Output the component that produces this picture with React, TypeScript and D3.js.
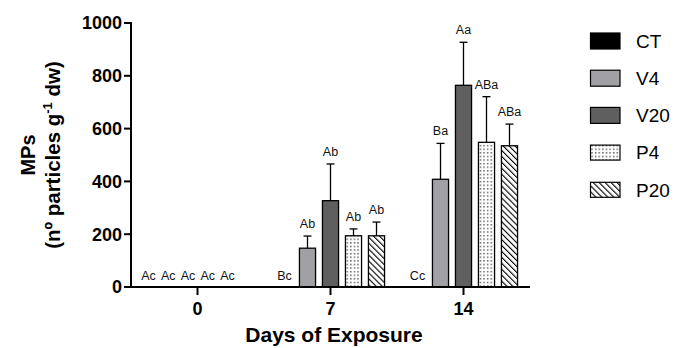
import React from "react";
import * as d3 from "d3";

const days = ["0", "7", "14"];
const series = ["CT", "V4", "V20", "P4", "P20"];
const meanCT = [0, 0, 0];
const meanV4 = [0, 147, 408];
const meanV20 = [0, 327, 764];
const meanP4 = [0, 194, 548];
const meanP20 = [0, 194, 535];
const sdCT = [0, 0, 0];
const sdV4 = [0, 46, 136];
const sdV20 = [0, 139, 163];
const sdP4 = [0, 26, 173];
const sdP20 = [0, 52, 82];
const lettersCT = ["Ac", "Bc", "Cc"];
const lettersV4 = ["Ac", "Ab", "Ba"];
const lettersV20 = ["Ac", "Ab", "Aa"];
const lettersP4 = ["Ac", "Ab", "ABa"];
const lettersP20 = ["Ac", "Ab", "ABa"];
const yTicks = [0, 200, 400, 600, 800, 1000];

const means = [meanCT, meanV4, meanV20, meanP4, meanP20];
const sds = [sdCT, sdV4, sdV20, sdP4, sdP20];
const letters = [lettersCT, lettersV4, lettersV20, lettersP4, lettersP20];
const fills = ["#000000", "#a1a1a5", "#5f5f5f", "url(#dots)", "url(#hatch)"];

const W = 675;
const H = 348;
const left = 131;
const right = 530;
const top = 23;
const bottom = 287;

export default function App() {
  const x = d3.scaleBand<string>().domain(days).range([left, right]).padding(0);
  const inner = d3
    .scaleBand<string>()
    .domain(series)
    .range([-57.5, 57.5])
    .paddingInner(0.3)
    .paddingOuter(0.15);
  const y = d3.scaleLinear().domain([0, 1000]).range([bottom, top]);
  const legendY = d3.scalePoint<string>().domain(series).range([41, 189.8]);
  const font = "Liberation Sans, Arial, sans-serif";

  const bars: React.ReactNode[] = [];
  const labels: React.ReactNode[] = [];
  days.forEach((d, di) => {
    const gc = (x(d) as number) + x.bandwidth() / 2;
    series.forEach((s, si) => {
      const v = means[si][di];
      const e = sds[si][di];
      const bx = gc + (inner(s) as number);
      const bw = inner.bandwidth();
      const cx = bx + bw / 2;
      if (v > 0) {
        if (e > 0) {
          bars.push(
            <g key={`e${d}${s}`} stroke="#000" strokeWidth={1.3}>
              <line x1={cx} x2={cx} y1={y(v)} y2={y(v + e)} />
              <line x1={cx - 4} x2={cx + 4} y1={y(v + e)} y2={y(v + e)} />
            </g>
          );
        }
        bars.push(
          <rect
            key={`b${d}${s}`}
            x={bx}
            y={y(v)}
            width={bw}
            height={y(0) - y(v)}
            fill={fills[si]}
            stroke="#000"
            strokeWidth={1.3}
          />
        );
      }
      let lx = cx;
      if (di === 0) {
        lx = gc - 9.5 + (si - 2) * 19.75;
      }
      const ly = v > 0 ? y(v + e) - 8 : y(0) - 7;
      labels.push(
        <text
          key={`l${d}${s}`}
          x={lx}
          y={ly}
          textAnchor="middle"
          fontSize={12.5}
          fontFamily={font}
          fill="#111"
        >
          {letters[si][di]}
        </text>
      );
    });
  });

  return (
    <svg width={W} height={H} style={{ position: "absolute", left: 0, top: 0 }}>
      <defs>
        <pattern id="dots" width={3.6} height={3.6} patternUnits="userSpaceOnUse">
          <rect width={3.6} height={3.6} fill="#fff" />
          <rect x={1} y={1} width={1.3} height={1.3} fill="#333" />
        </pattern>
        <pattern
          id="hatch"
          width={4.2}
          height={4.2}
          patternUnits="userSpaceOnUse"
          patternTransform="rotate(-45)"
        >
          <rect width={4.2} height={4.2} fill="#fff" />
          <line x1={0} y1={0} x2={0} y2={4.2} stroke="#000" strokeWidth={2.2} />
        </pattern>
      </defs>
      <rect width={W} height={H} fill="#fff" />
      {bars}
      {labels}
      <line x1={left} x2={left} y1={top - 1} y2={bottom + 1} stroke="#000" strokeWidth={2} />
      <line x1={left} x2={right} y1={bottom} y2={bottom} stroke="#000" strokeWidth={2} />
      {yTicks.map((t) => (
        <g key={`yt${t}`}>
          <line x1={left - 7} x2={left} y1={y(t)} y2={y(t)} stroke="#000" strokeWidth={2} />
          <text
            x={left - 9}
            y={y(t) + 6.3}
            textAnchor="end"
            fontSize={18}
            fontWeight="bold"
            fontFamily={font}
          >
            {t}
          </text>
        </g>
      ))}
      {days.map((d) => {
        const gc = (x(d) as number) + x.bandwidth() / 2;
        return (
          <g key={`xt${d}`}>
            <line x1={gc} x2={gc} y1={bottom} y2={bottom + 8} stroke="#000" strokeWidth={2} />
            <text
              x={gc}
              y={314.5}
              textAnchor="middle"
              fontSize={18}
              fontWeight="bold"
              fontFamily={font}
            >
              {d}
            </text>
          </g>
        );
      })}
      <text
        x={334}
        y={342}
        textAnchor="middle"
        fontSize={21}
        fontWeight="bold"
        fontFamily={font}
      >
        Days of Exposure
      </text>
      <g transform="translate(35,155) rotate(-90)">
        <text textAnchor="middle" fontSize={20} fontWeight="bold" fontFamily={font}>
          MPs
        </text>
      </g>
      <g transform="translate(60,155) rotate(-90)">
        <text textAnchor="middle" fontSize={20.5} fontWeight="bold" fontFamily={font}>
          (nº particles g<tspan dy={-8} fontSize={13}>-1</tspan>
          <tspan dy={8}> dw)</tspan>
        </text>
      </g>
      {series.map((s, si) => {
        const cy = legendY(s) as number;
        const h = si >= 3 ? 15 : 16;
        return (
          <g key={`lg${s}`}>
            <rect
              x={590.5}
              y={cy - h / 2}
              width={29.5}
              height={h}
              fill={fills[si]}
              stroke="#000"
              strokeWidth={1.2}
            />
            <text x={636} y={cy + 6.8} fontSize={19} fontFamily={font}>
              {s}
            </text>
          </g>
        );
      })}
    </svg>
  );
}
